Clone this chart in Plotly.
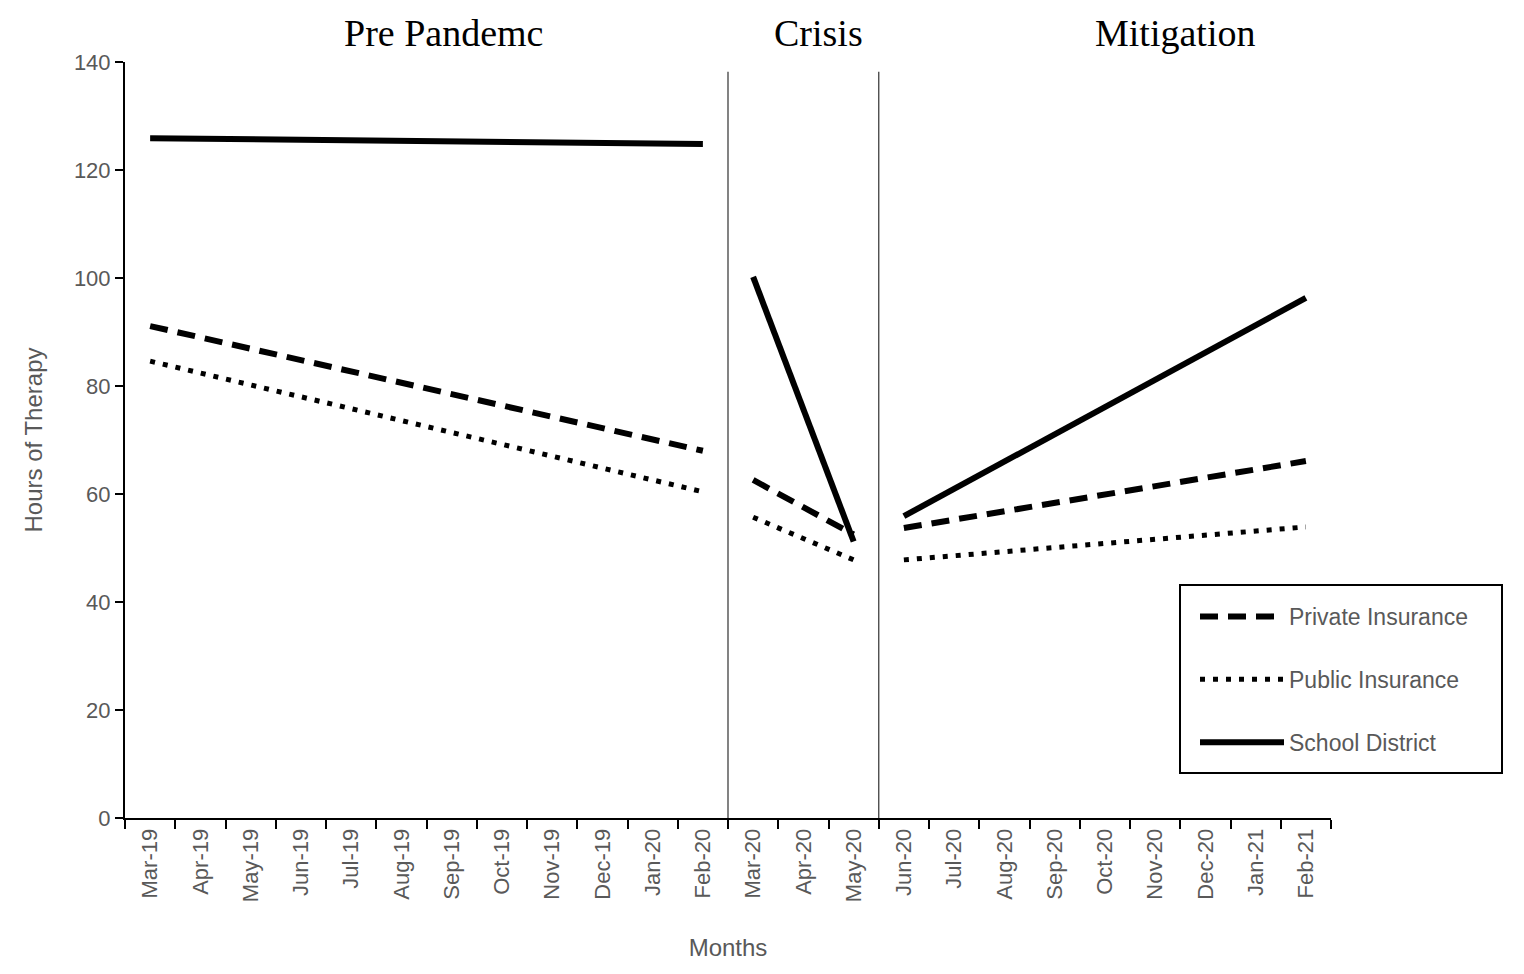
import plotly.graph_objects as go

months = ["Mar-19", "Apr-19", "May-19", "Jun-19", "Jul-19", "Aug-19", "Sep-19", "Oct-19",
          "Nov-19", "Dec-19", "Jan-20", "Feb-20", "Mar-20", "Apr-20", "May-20", "Jun-20",
          "Jul-20", "Aug-20", "Sep-20", "Oct-20", "Nov-20", "Dec-20", "Jan-21", "Feb-21"]

# Segment endpoints (None = straight-line trend in between)
N = None
private_ins = [91.1, N, N, N, N, N, N, N, N, N, N, 68.0,
               62.6, N, 52.5,
               53.7, N, N, N, N, N, N, N, 66.1]
public_ins = [84.6, N, N, N, N, N, N, N, N, N, N, 60.4,
              55.7, N, 47.8,
              47.8, N, N, N, N, N, N, N, 53.9]
school = [125.9, N, N, N, N, N, N, N, N, N, N, 124.8,
          100.2, N, 51.2,
          55.9, N, N, N, N, N, N, N, 96.3]

periods = [("Pre Pandemc", 0, 11), ("Crisis", 12, 14), ("Mitigation", 15, 23)]
y_ticks = [0, 20, 40, 60, 80, 100, 120, 140]

series = [
    ("Private Insurance", private_ins, dict(color="black", width=6, dash="18px,10px")),
    ("Public Insurance", public_ins, dict(color="black", width=5, dash="5px,8px")),
    ("School District", school, dict(color="black", width=6)),
]

fig = go.Figure()
for name, vals, line in series:
    for k, (_, s, e) in enumerate(periods):
        fig.add_trace(go.Scatter(
            x=months[s:e + 1], y=vals[s:e + 1], mode="lines", connectgaps=True,
            name=name, legendgroup=name, showlegend=(k == 0), line=line,
            hoverinfo="skip"))

OFF = 8  # page body margin
W, H = 1524 - 2 * OFF, 974 - 2 * OFF
L, R, T, B = 125 - OFF, 1331 - OFF, 62 - OFF, 818 - OFF

def px_x(p):
    return (p - OFF - L) / (R - L)

def px_y(p):
    return (B - (p - OFF)) / (B - T)

# Period separators
for b in [11.5, 14.5]:
    fig.add_shape(type="line", xref="x", yref="y", x0=b, x1=b, y0=0, y1=138.2,
                  line=dict(color="#404040", width=1.3))

# Legend frame
fig.add_shape(type="rect", xref="paper", yref="paper",
              x0=px_x(1180), x1=px_x(1502), y0=px_y(773), y1=px_y(585),
              line=dict(color="black", width=2), fillcolor="white", layer="above")

# Period titles
centers = [443, 818, 1175]
for (label, _, _), c in zip(periods, centers):
    fig.add_annotation(text=label, xref="paper", yref="paper", x=px_x(c),
                       y=px_y(33), xanchor="center", yanchor="middle",
                       showarrow=False,
                       font=dict(family="Liberation Serif", size=38, color="black"))

fig.update_layout(
    width=W, height=H,
    margin=dict(l=L, r=W - R, t=T, b=H - B, pad=0),
    paper_bgcolor="white", plot_bgcolor="white",
    showlegend=True,
    legend=dict(x=px_x(1195), y=px_y(595), xanchor="left", yanchor="top",
                borderwidth=0, bgcolor="rgba(0,0,0,0)",
                font=dict(family="Liberation Sans", size=23, color="#595959"),
                tracegroupgap=30, itemwidth=84),
    xaxis=dict(type="category", categoryorder="array", categoryarray=months,
               range=[-0.5, 23.5], tickson="boundaries", ticks="outside", ticklen=9,
               tickwidth=2, tickcolor="black", showline=True, linecolor="black",
               linewidth=2, showgrid=False, tickangle=-90, automargin=False,
               tickfont=dict(family="Liberation Sans", size=22, color="#595959"),
               title=dict(text="Months", standoff=38,
                          font=dict(family="Liberation Sans", size=24, color="#595959"))),
    yaxis=dict(range=[0, 140], tickvals=y_ticks, ticks="outside", ticklen=8,
               tickwidth=2, tickcolor="black", showline=True, linecolor="black",
               linewidth=2, showgrid=False, zeroline=False, automargin=False,
               tickfont=dict(family="Liberation Sans", size=22, color="#595959"),
               title=dict(text="Hours of Therapy", standoff=24,
                          font=dict(family="Liberation Sans", size=24, color="#595959"))),
)

fig.write_html("out.html")
